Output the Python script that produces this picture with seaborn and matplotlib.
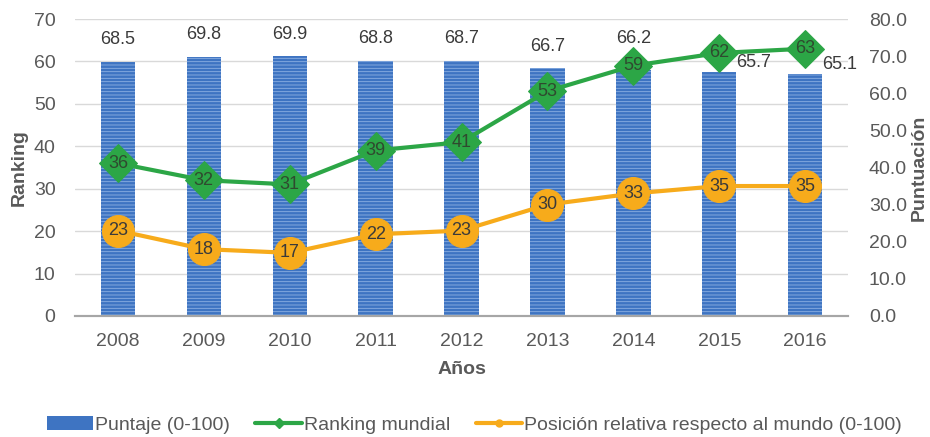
import matplotlib
matplotlib.use("Agg")
import matplotlib.pyplot as plt
import seaborn as sns
import pandas as pd
from matplotlib.patches import Patch
from matplotlib.lines import Line2D

# datos
years = ["2008", "2009", "2010", "2011", "2012", "2013", "2014", "2015", "2016"]
puntaje = [68.5, 69.8, 69.9, 68.8, 68.7, 66.7, 66.2, 65.7, 65.1]
ranking = [36, 32, 31, 39, 41, 53, 59, 62, 63]
posicion = [23, 18, 17, 22, 23, 30, 33, 35, 35]

BLUE = "#3e74c2"
GREEN = "#2ca646"
ORANGE = "#f7ab1b"
TXT = "#595959"

sns.set_theme(style="white")
plt.rcParams["font.family"] = ["Liberation Sans", "DejaVu Sans"]
plt.rcParams["hatch.linewidth"] = 0.6

df = pd.DataFrame({"year": years, "puntaje": puntaje, "ranking": ranking, "posicion": posicion})

fig = plt.figure(figsize=(9.3, 4.37), dpi=100)
ax = fig.add_axes([0.0806, 0.277, 0.8314, 0.6795])
ax2 = ax.twinx()
ax.set_zorder(ax2.get_zorder() + 1)
ax.patch.set_visible(False)

# barras en eje derecho (Puntuación)
sns.barplot(data=df, x="year", y="puntaje", ax=ax2, color=BLUE, width=0.4,
            saturation=1, edgecolor="#8db0e3", linewidth=0, hatch="-----")
ax2.set_ylim(0, 80)
ax2.set_xlim(-0.5, 8.5)

# posicion relativa en eje derecho
sns.lineplot(data=df, x="year", y="posicion", ax=ax2, color=ORANGE, lw=3,
             marker="o", markersize=23, markeredgecolor=ORANGE, zorder=5)
for i, v in enumerate(posicion):
    ax2.text(i, v, str(v), ha="center", va="center", fontsize=13, color="#3a3a3a", zorder=6)

# etiquetas de las barras
for i, v in enumerate(puntaje):
    if i >= 7:
        ax2.text(i + 0.2, v + 2.6, f"{v:.1f}", ha="left", va="center", fontsize=13, color="#3a3a3a")
    else:
        off = 8.5 if i == 6 else 6.0
        ax2.text(i, v + off, f"{v:.1f}", ha="center", va="center", fontsize=13, color="#3a3a3a",
                 bbox=dict(boxstyle="round,pad=0.15", fc="white", ec="none", alpha=0.85))

# ranking mundial en eje izquierdo
sns.lineplot(data=df, x="year", y="ranking", ax=ax, color=GREEN, lw=3,
             marker="D", markersize=19, markeredgecolor=GREEN, zorder=5)
for i, v in enumerate(ranking):
    ax.text(i, v, str(v), ha="center", va="center", fontsize=13, color="#2f4a2f", zorder=6)

ax.set_ylim(0, 70)
ax.set_xlim(-0.5, 8.5)
ax.set_yticks(range(0, 71, 10))
ax2.set_yticks(range(0, 81, 10))
ax2.set_yticklabels([f"{t:.1f}" for t in range(0, 81, 10)])

ax2.grid(False)
ax.grid(False)
for t in range(10, 71, 10):
    ax2.axhline(t * 80 / 70, color="#d9d9d9", lw=1, zorder=0)

for a in (ax, ax2):
    for s in ("top", "left", "right"):
        a.spines[s].set_visible(False)
    a.spines["bottom"].set_color("#a6a6a6")
    a.spines["bottom"].set_linewidth(1.5)
    a.tick_params(axis="both", length=0, labelsize=14, labelcolor=TXT)
ax.tick_params(axis="x", pad=12)
ax.tick_params(axis="y", pad=14)
ax2.tick_params(axis="y", pad=15)

ax.set_xlabel("Años", fontsize=14, fontweight="bold", color=TXT, labelpad=8)
ax.set_ylabel("Ranking", fontsize=14, fontweight="bold", color=TXT, labelpad=4)
ax2.set_xlabel("")
ax2.set_ylabel("Puntuación", fontsize=14, fontweight="bold", color=TXT, rotation=90)
ax2.yaxis.set_label_coords(1.081, 0.5)

handles = [
    Patch(facecolor=BLUE, edgecolor="none"),
    Line2D([0], [0], color=GREEN, lw=3, marker="D", markersize=5),
    Line2D([0], [0], color=ORANGE, lw=3, marker="o", markersize=5),
]
labels = ["Puntaje (0-100)", "Ranking mundial", "Posición relativa respecto al mundo (0-100)"]
fig.legend(handles, labels, loc="center", bbox_to_anchor=(0.51, 0.027), ncol=3, frameon=False,
           fontsize=14, labelcolor=TXT, handlelength=2.4, handletextpad=0.1, columnspacing=1.3)

fig.savefig("out.png", dpi=100)
